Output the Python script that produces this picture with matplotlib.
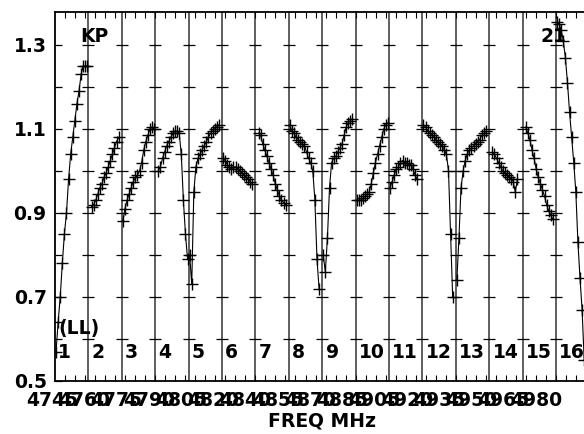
import numpy as np
import matplotlib.pyplot as plt

nan = np.nan

# ampiezza bandpass per canale (16 canali per IF), polarizzazione LL
if01 = [0.57, 0.64, 0.70, 0.78, 0.85, 0.90, 0.98, 1.04, 1.08, 1.12, 1.16, 1.19, 1.23, 1.25, 1.25, 1.25]
if02 = [nan, 0.915, 0.92, 0.93, 0.945, 0.96, 0.97, 0.985, 0.995, 1.01, 1.025, 1.04, 1.055, 1.07, 1.08, nan]
if03 = [0.88, 0.91, 0.93, 0.945, 0.96, 0.975, 0.985, 0.99, 1.00, 1.02, 1.05, 1.07, 1.085, 1.10, 1.105, 1.10]
if04 = [nan, 1.00, 1.01, 1.03, 1.045, 1.06, 1.07, 1.08, 1.09, 1.095, 1.095, 1.09, 1.04, 0.93, 0.85, 0.79]
if05 = [0.80, 0.73, 0.95, 1.01, 1.03, 1.04, 1.05, 1.06, 1.07, 1.08, 1.09, 1.095, 1.10, 1.105, 1.11, nan]
if06 = [1.03, 1.025, 1.015, 1.01, 1.005, 1.01, 1.01, 1.005, 1.00, 0.995, 0.99, 0.985, 0.98, 0.975, 0.97, nan]
if07 = [nan, 1.09, 1.085, 1.065, 1.05, 1.035, 1.02, 1.005, 0.99, 0.97, 0.955, 0.94, 0.93, 0.925, 0.92, nan]
if08 = [1.11, 1.095, 1.09, 1.08, 1.075, 1.07, 1.065, 1.06, 1.045, 1.03, 1.02, 1.00, 0.93, 0.79, 0.72, nan]
if09 = [0.80, 0.76, 0.84, 0.96, 1.02, 1.03, 1.035, 1.045, 1.055, 1.065, 1.085, 1.105, 1.115, 1.12, 1.125, nan]
if10 = [0.93, 0.93, 0.93, 0.935, 0.94, 0.945, 0.95, 0.97, 0.995, 1.02, 1.04, 1.06, 1.08, 1.10, 1.11, 1.115]
if11 = [0.96, 0.975, 0.99, 1.005, 1.01, 1.02, 1.025, 1.02, 1.02, 1.015, 1.015, 1.005, 0.99, 0.98, nan, nan]
if12 = [1.11, 1.105, 1.095, 1.09, 1.085, 1.08, 1.075, 1.07, 1.065, 1.06, 1.05, 1.04, 1.00, 0.85, 0.70, nan]
if13 = [0.74, 0.84, 0.96, 1.00, 1.025, 1.04, 1.05, 1.055, 1.06, 1.065, 1.07, 1.075, 1.085, 1.09, 1.095, nan]
if14 = [nan, 1.045, 1.04, 1.03, 1.02, 1.01, 1.00, 0.995, 0.99, 0.985, 0.98, 0.975, 0.95, 0.98, nan, nan]
if15 = [nan, 1.105, 1.09, 1.075, 1.05, 1.03, 1.005, 0.985, 0.97, 0.955, 0.94, 0.92, 0.905, 0.895, 0.885, nan]
if16 = [1.355, 1.35, 1.335, 1.31, 1.27, 1.21, 1.14, 1.08, 1.02, 0.95, 0.83, 0.745, 0.67, 0.55, nan, nan]

freq_labels = ['4745', '4760', '4775', '4790', '4805', '4820', '4840', '4855',
               '4870', '4885', '4905', '4920', '4935', '4950', '4965', '4980']
y_ticks = [0.5, 0.7, 0.9, 1.1, 1.3]
y_dash = [0.6, 0.7, 0.8, 0.9, 1.0, 1.1, 1.2, 1.3]

tutti_if = [if01, if02, if03, if04, if05, if06, if07, if08,
            if09, if10, if11, if12, if13, if14, if15, if16]
n_if = len(tutti_if)
n_chan = len(if01)

plt.rcParams['font.family'] = 'DejaVu Sans'
plt.rcParams['font.weight'] = 'bold'

fig = plt.figure(figsize=(5.84, 4.34), dpi=100)
# l'asse esce un po' a destra della figura, come nel plot originale
ax = fig.add_axes([55 / 584, 53 / 434, n_if * 33.4 / 584, 369 / 434])
ax.set_xlim(0, n_if)
ax.set_ylim(0.5, 0.5 + 369 / 420)

# separatori tra gli IF e tacche orizzontali
for k in range(1, n_if):
    ax.axvline(k, color='#333333', lw=1.1, zorder=1)
    ax.plot([k] * len(y_dash), y_dash, ls='none', marker='_', ms=9,
            mew=0.9, color='black', zorder=1)

chan = (np.arange(n_chan) + 0.5) / n_chan
for k, amp in enumerate(tutti_if):
    xs = k + chan
    ax.plot(xs, amp, color='black', lw=0.8, zorder=2)
    ax.plot(xs, amp, ls='none', marker='+', ms=9, mew=1.0, color='black', zorder=3)
    ax.text(k + 0.1, 0.569, str(k + 1), fontsize=13.5, fontweight='bold',
            ha='left', va='center')

ax.set_yticks(y_ticks)
ax.set_yticklabels([f'{v:.1f}' for v in y_ticks], fontsize=13.5, fontweight='bold')
ax.set_yticks(y_dash, minor=True)
ax.tick_params(axis='y', which='both', direction='in', length=5, width=0.9, pad=6,
               right=False)
ax.tick_params(axis='y', which='minor', labelleft=False)

ax.set_xticks([])
ax.set_xticks(np.arange(0.3, n_if, 0.3), minor=True)
ax.tick_params(axis='x', which='minor', direction='in', length=4.5, width=0.8,
               top=True, bottom=True)

# etichette di frequenza sovrapposte
pos_lab = np.linspace(-0.09, 14.4, len(freq_labels))
for xp, lab in zip(pos_lab, freq_labels):
    ax.text(xp, -0.052, lab, transform=ax.get_xaxis_transform(), fontsize=13.5,
            fontweight='bold', ha='center', va='center', clip_on=False)

ax.text(0.5, -0.108, 'FREQ MHz', transform=ax.transAxes, fontsize=13.5,
        fontweight='bold', ha='center', va='center')

ax.text(0.75, 1.32, 'KP', fontsize=13.5, fontweight='bold', ha='left', va='center')
ax.text(14.55, 1.32, '21', fontsize=13.5, fontweight='bold', ha='left', va='center')
ax.text(0.1, 0.625, '(LL)', fontsize=13.5, fontweight='bold', ha='left', va='center')

for s in ax.spines.values():
    s.set_linewidth(1.3)

fig.savefig('out.png', dpi=100)
